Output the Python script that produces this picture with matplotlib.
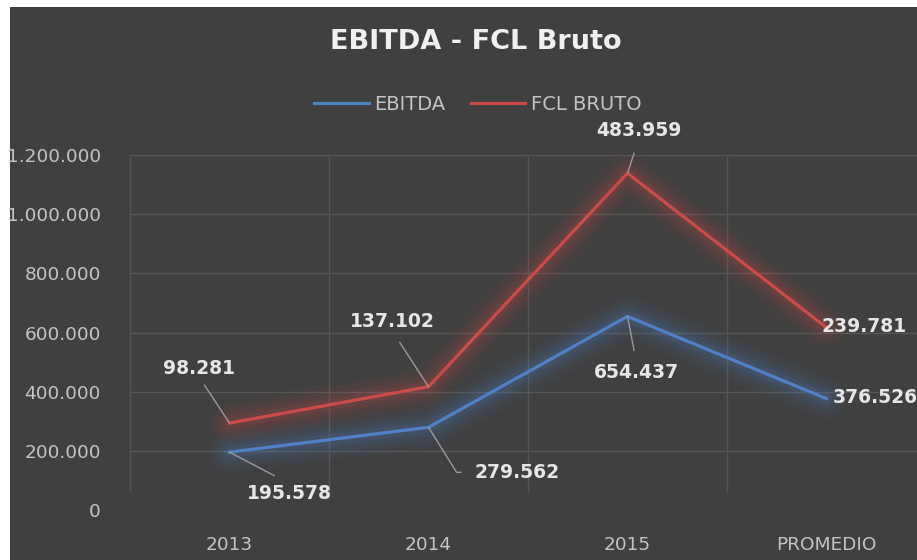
import matplotlib.pyplot as plt
import matplotlib.patches as patches
import numpy as np

# Datos
categorias = ["2013", "2014", "2015", "PROMEDIO"]
ebitda = [195578, 279562, 654437, 376526]
fcl_bruto = [98281, 137102, 483959, 239781]
y_ticks = [0, 200000, 400000, 600000, 800000, 1000000, 1200000]

fondo = "#404040"
azul = "#4f81c7"
rojo = "#cc4b48"
gris_txt = "#c4c4c4"
blanco_txt = "#e6e6e6"

plt.rcParams["font.family"] = ["DejaVu Sans"]


def fmt(v):
    return f"{v:,}".replace(",", ".")


fig = plt.figure(figsize=(9.17, 5.6), dpi=100, facecolor="white")
# fondo oscuro con borde blanco arriba e izquierda
fig.patches.append(patches.Rectangle((10 / 917, 0), 1, 553 / 560, transform=fig.transFigure,
                                     facecolor=fondo, edgecolor="none", zorder=-10))

ax = fig.add_axes([130 / 917, 50 / 560, 796 / 917, 355 / 560])
ax.set_facecolor(fondo)
ax.patch.set_alpha(0)

x = np.arange(len(categorias))
# linea apilada: FCL se dibuja sobre EBITDA
fcl_apilado = np.array(ebitda) + np.array(fcl_bruto)

ax.set_xlim(-0.5, len(categorias) - 0.5)
ax.set_ylim(0, 1200000)

# grilla
for t in y_ticks[1:]:
    ax.axhline(t, color="#575757", lw=1, zorder=1)
for b in np.arange(-0.5, len(categorias), 1):
    ax.axvline(b, ymin=0.05, color="#555555", lw=1, zorder=1)

# brillo difuso detras de las lineas
for serie, col in [(ebitda, azul), (fcl_apilado, rojo)]:
    for lw, a in [(30, 0.04), (24, 0.05), (18, 0.06), (13, 0.08), (8, 0.1)]:
        ax.plot(x, serie, color=col, lw=lw, alpha=a, solid_capstyle="round",
                solid_joinstyle="round", zorder=2)

ax.plot(x, ebitda, color=azul, lw=2.3, label="EBITDA", zorder=3)
ax.plot(x, fcl_apilado, color=rojo, lw=2.3, label="FCL BRUTO", zorder=3)

for s in ax.spines.values():
    s.set_visible(False)

ax.set_xticks(x)
ax.set_xticklabels(categorias)
ax.set_yticks(y_ticks)
ax.set_yticklabels([fmt(t) for t in y_ticks])
ax.tick_params(length=0, colors=gris_txt, labelsize=13.3)
ax.tick_params(axis="y", pad=21)
ax.tick_params(axis="x", pad=19)

lider = dict(arrowstyle="-", color="#9a9a9a", lw=1)
kw = dict(textcoords="offset pixels", color=blanco_txt, fontsize=13.5,
          fontweight="bold", zorder=5)

# etiquetas FCL BRUTO
ax.annotate(fmt(fcl_bruto[0]), (x[0], fcl_apilado[0]), xytext=(-30, 55), ha="center", va="center",
            arrowprops=dict(lider, relpos=(0.5, 0), shrinkA=4, shrinkB=0), **kw)
ax.annotate(fmt(fcl_bruto[1]), (x[1], fcl_apilado[1]), xytext=(-36, 65), ha="center", va="center",
            arrowprops=dict(lider, relpos=(0.5, 0), shrinkA=7, shrinkB=0), **kw)
ax.annotate(fmt(fcl_bruto[2]), (x[2], fcl_apilado[2]), xytext=(11, 43), ha="center", va="center",
            arrowprops=dict(lider, relpos=(0.5, 0), shrinkA=8, shrinkB=0), **kw)
ax.annotate(fmt(fcl_bruto[3]), (x[3], fcl_apilado[3]), xytext=(-5, 1), ha="left", va="center", **kw)

# etiquetas EBITDA
ax.annotate(fmt(ebitda[0]), (x[0], ebitda[0]), xytext=(60, -41), ha="center", va="center",
            arrowprops=dict(lider, relpos=(0.5, 1), shrinkA=8, shrinkB=0), **kw)
ax.annotate(fmt(ebitda[1]), (x[1], ebitda[1]), xytext=(89, -45), ha="center", va="center",
            arrowprops=dict(lider, relpos=(0, 0.5), shrinkA=8, shrinkB=0,
                            connectionstyle="angle,angleA=0,angleB=-58,rad=0"), **kw)
ax.annotate(fmt(ebitda[2]), (x[2], ebitda[2]), xytext=(9, -56), ha="center", va="center",
            arrowprops=dict(lider, relpos=(0.5, 1), shrinkA=7, shrinkB=0), **kw)
ax.annotate(fmt(ebitda[3]), (x[3], ebitda[3]), xytext=(6, 1), ha="left", va="center", **kw)

fig.text(476 / 917, 1 - 42 / 560, "EBITDA - FCL Bruto", ha="center", va="center",
         fontsize=19.5, fontweight="bold", color="#f0f0f0")

leg = fig.legend(loc="center", bbox_to_anchor=(478 / 917, 1 - 104 / 560), ncol=2, frameon=False,
                 fontsize=14, labelcolor=gris_txt, handlelength=2.8, handletextpad=0.3,
                 columnspacing=1.3)

fig.savefig("out.png", dpi=100, facecolor="white")
